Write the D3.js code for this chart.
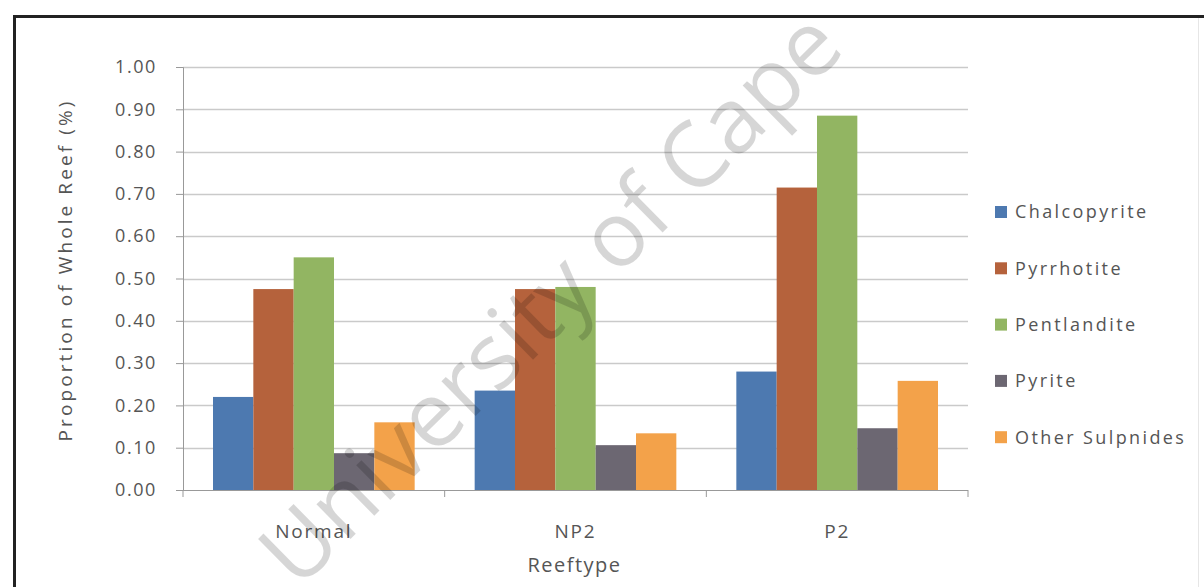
<!DOCTYPE html>
<html>
<head>
<meta charset="utf-8">
<script src="https://cdn.jsdelivr.net/npm/d3@7"></script>
<style>
  html, body { margin: 0; padding: 0; background: #fff; }
  svg { display: block; }
  text { font-family: "Open Sans", "Noto Sans", sans-serif; fill: #555; }
</style>
</head>
<body>
<svg id="chart" width="1204" height="587"></svg>
<script>
// Reef types along the x axis
const categories = ["Normal", "NP2", "P2"];

// Sulphide minerals, one series each
const seriesNames = ["Chalcopyrite", "Pyrrhotite", "Pentlandite", "Pyrite", "Other Sulpnides"];

// Proportion of whole reef (%) per reef type
const chalcopyrite = [0.22, 0.235, 0.28];
const pyrrhotite   = [0.475, 0.475, 0.715];
const pentlandite  = [0.55, 0.48, 0.885];
const pyrite       = [0.087, 0.106, 0.146];
const otherSulph   = [0.16, 0.134, 0.258];

const yTicks = [0, 0.1, 0.2, 0.3, 0.4, 0.5, 0.6, 0.7, 0.8, 0.9, 1.0];
const colors = ["#4D79B0", "#B5623C", "#92B562", "#6C6772", "#F3A24A"];

const seriesValues = [chalcopyrite, pyrrhotite, pentlandite, pyrite, otherSulph];
const rows = categories.map((c, i) => ({
  cat: c,
  vals: seriesNames.map((s, j) => ({ name: s, value: seriesValues[j][i], color: colors[j] }))
}));

const svg = d3.select("#chart");
const plot = { left: 183, right: 968, top: 67, bottom: 490 };

const x0 = d3.scaleBand().domain(categories).range([plot.left, plot.right]).padding(0);
const x1 = d3.scaleBand().domain(seriesNames)
  .range([30, x0.bandwidth() - 30]).padding(0);
const y = d3.scaleLinear().domain([0, 1]).range([plot.bottom, plot.top]);

// Frame around the figure
svg.append("line").attr("x1", 13).attr("x2", 1204).attr("y1", 16.5).attr("y2", 16.5)
  .attr("stroke", "#222").attr("stroke-width", 3);
svg.append("line").attr("x1", 14.5).attr("x2", 14.5).attr("y1", 15).attr("y2", 587)
  .attr("stroke", "#222").attr("stroke-width", 3);
svg.append("line").attr("x1", 1198.5).attr("x2", 1198.5).attr("y1", 18).attr("y2", 587)
  .attr("stroke", "#e6e6e6").attr("stroke-width", 1);

// Horizontal gridlines
svg.append("g")
  .selectAll("line")
  .data(yTicks.filter(t => t > 0))
  .join("line")
  .attr("x1", plot.left).attr("x2", plot.right)
  .attr("y1", d => Math.round(y(d)) + 0.5).attr("y2", d => Math.round(y(d)) + 0.5)
  .attr("stroke", "#cacaca").attr("stroke-width", 1.3);

// Bars
const groups = svg.append("g").selectAll("g")
  .data(rows)
  .join("g")
  .attr("transform", d => `translate(${x0(d.cat)},0)`);
groups.selectAll("rect")
  .data(d => d.vals)
  .join("rect")
  .attr("x", d => x1(d.name))
  .attr("width", x1.bandwidth())
  .attr("y", d => y(d.value))
  .attr("height", d => y(0) - y(d.value))
  .attr("fill", d => d.color);

// Y axis
const yAxis = d3.axisLeft(y).tickValues(yTicks).tickFormat(d3.format(".2f"))
  .tickSize(7).tickPadding(19);
const gy = svg.append("g").attr("transform", `translate(${plot.left},0)`).call(yAxis);
gy.select(".domain").attr("stroke", "#999");
gy.selectAll(".tick line").attr("stroke", "#999");
gy.selectAll(".tick text").attr("fill", "#5a5a5a")
  .style("font-size", "18px").style("letter-spacing", "1.6px")
  .style("font-family", "'Open Sans', sans-serif");

// X axis: category boundary ticks, labels centred in each band
const gx = svg.append("g").attr("transform", `translate(0,${plot.bottom})`);
gx.append("line").attr("x1", plot.left).attr("x2", plot.right).attr("y1", 0.5).attr("y2", 0.5)
  .attr("stroke", "#999");
const bounds = categories.map(c => x0(c)).concat([plot.right]);
gx.selectAll("line.tk").data(bounds).join("line").attr("class", "tk")
  .attr("x1", d => d).attr("x2", d => d).attr("y1", 0).attr("y2", 7)
  .attr("stroke", "#999");
gx.selectAll("text").data(categories).join("text")
  .attr("x", d => x0(d) + x0.bandwidth() / 2)
  .attr("y", 48)
  .attr("text-anchor", "middle")
  .style("font-size", "19px").style("letter-spacing", "1.8px")
  .attr("fill", "#5a5a5a")
  .text(d => d);

// Axis titles
svg.append("text")
  .attr("x", (plot.left + plot.right) / 2 - 1).attr("y", 572)
  .attr("text-anchor", "middle")
  .style("font-size", "20px").style("letter-spacing", "1.5px")
  .attr("fill", "#333")
  .text("Reeftype");
svg.append("text")
  .attr("transform", "translate(72,270) rotate(-90)")
  .attr("text-anchor", "middle")
  .style("font-size", "19px").style("letter-spacing", "3.1px")
  .attr("fill", "#444")
  .text("Proportion of Whole Reef (%)");

// Legend
const legend = svg.append("g").selectAll("g")
  .data(seriesNames)
  .join("g")
  .attr("transform", (d, i) => `translate(995,${212 + i * 56.3})`);
legend.append("rect").attr("x", 0).attr("y", -6).attr("width", 12).attr("height", 12)
  .attr("fill", (d, i) => colors[i]);
legend.append("text").attr("x", 20).attr("y", 0).attr("dy", "0.35em")
  .style("font-size", "18px").style("letter-spacing", "2.4px")
  .attr("fill", "#555")
  .text(d => d);

// Diagonal watermark over the chart
svg.append("text")
  .attr("transform", "translate(548,296) rotate(-44.5)")
  .attr("text-anchor", "middle")
  .attr("dominant-baseline", "central")
  .style("font-size", "91px")
  .style("font-family", "'Open Sans', sans-serif")
  .style("fill", "#000")
  .style("fill-opacity", 0.16)
  .text("University of Cape");
</script>
</body>
</html>
